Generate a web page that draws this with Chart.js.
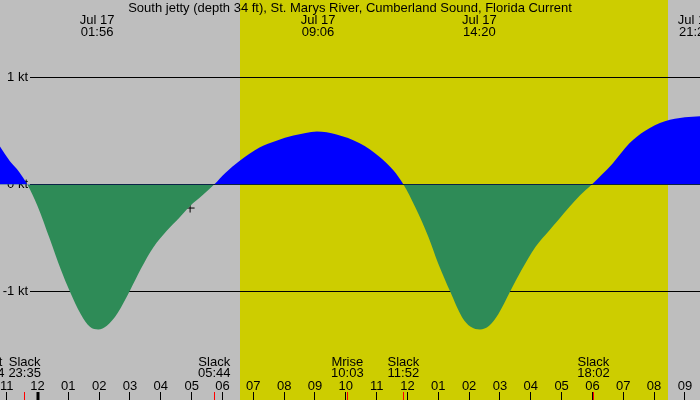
<!DOCTYPE html>
<html>
<head>
<meta charset="utf-8">
<script src="https://cdn.jsdelivr.net/npm/chart.js@4.4.1/dist/chart.umd.min.js"></script>
<style>
  html, body { margin: 0; padding: 0; background: #bebebe; }
  canvas { display: block; }
</style>
</head>
<body>
<canvas id="tideChart" width="700" height="400"></canvas>
<script>
// Current at South jetty, hours since Jul 17 00:00 -> knots
const hours = [-1.25, -0.9, -0.6, -0.33, 0, 0.4, 0.75, 1.05, 1.4, 1.7, 1.97, 2.25, 2.6, 3.0, 3.35, 3.75,
  4.2, 4.6, 4.95, 5.35, 5.73, 6.1, 6.55, 7.2, 7.75, 8.3, 8.7, 9.06, 9.7, 10.45, 11.1, 11.55, 11.87,
  12.25, 12.68, 13.0, 13.4, 13.77, 14.05, 14.35, 14.65, 14.95, 15.33, 15.7, 16.15, 16.6, 16.9, 17.25,
  17.6, 17.98, 18.3, 18.65, 19.2, 19.7, 20.35, 21.0, 21.5];
const knots = [0.37, 0.22, 0.12, 0, -0.2, -0.51, -0.79, -1.0, -1.21, -1.33, -1.355, -1.32, -1.2, -0.99, -0.79, -0.59,
  -0.43, -0.31, -0.2, -0.1, 0, 0.11, 0.22, 0.345, 0.41, 0.458, 0.482, 0.495, 0.467, 0.385, 0.257, 0.13, 0,
  -0.21, -0.49, -0.74, -1.01, -1.24, -1.33, -1.355, -1.32, -1.21, -1.0, -0.8, -0.585, -0.43, -0.33, -0.21,
  -0.1, 0, 0.09, 0.195, 0.385, 0.5, 0.59, 0.628, 0.638];

// "now" marker
const nowHour = [4.95];
const nowKnots = [-0.22];

// reference lines
const levelValues = [1, 0, -1];
const levelLabels = ['1 kt', '0 kt', '-1 kt'];

// hour ticks along the bottom
const tickHours = [-1, 0, 1, 2, 3, 4, 5, 6, 7, 8, 9, 10, 11, 12, 13, 14, 15, 16, 17, 18, 19, 20, 21];
const tickLabels = ['11', '12', '01', '02', '03', '04', '05', '06', '07', '08', '09', '10',
  '11', '12', '01', '02', '03', '04', '05', '06', '07', '08', '09'];

// daylight
const sunrise = 6.575;
const sunset = 20.455;

// max flood / max ebb times (top labels)
const peakHours = [1.933, 9.1, 14.333, 21.333];
const peakDates = ['Jul 17', 'Jul 17', 'Jul 17', 'Jul 17'];
const peakTimes = ['01:56', '09:06', '14:20', '21:20'];

// slack / moon events (bottom labels)
const eventHours = [-1.6, -0.417, 5.733, 10.05, 11.867, 18.033];
const eventNames = ['Mset', 'Slack', 'Slack', 'Mrise', 'Slack', 'Slack'];
const eventTimes = ['22:24', '23:35', '05:44', '10:03', '11:52', '18:02'];

const title = 'South jetty (depth 34 ft), St. Marys River, Cumberland Sound, Florida Current';

const FONT = '13px "Liberation Sans", Arial, sans-serif';

const tidePlugin = {
    id: 'tideDecor',
    beforeDraw(chart) {
        const { ctx, width, height } = chart;
        const x = chart.scales.x;
        ctx.save();
        ctx.fillStyle = '#bebebe';
        ctx.fillRect(0, 0, width, height);
        const x0 = Math.round(x.getPixelForValue(sunrise));
        const x1 = Math.round(x.getPixelForValue(sunset));
        ctx.fillStyle = '#cdcd00';
        ctx.fillRect(x0, 0, x1 - x0, height);
        ctx.restore();
    },
    beforeDatasetsDraw(chart) {
        const { ctx, width } = chart;
        const y = chart.scales.y;
        ctx.save();
        ctx.fillStyle = '#000';
        ctx.font = FONT;
        ctx.textAlign = 'right';
        ctx.textBaseline = 'middle';
        levelValues.forEach((v, i) => {
            const py = Math.floor(y.getPixelForValue(v));
            ctx.fillRect(30, py, width - 30, 1);
            ctx.fillText(levelLabels[i], 28, py + 0.5);
        });
        ctx.restore();
    },
    afterDraw(chart) {
        const { ctx, width } = chart;
        const x = chart.scales.x;
        ctx.save();
        ctx.fillStyle = '#000';
        ctx.font = FONT;
        ctx.textAlign = 'center';
        ctx.textBaseline = 'alphabetic';

        ctx.fillText(title, width / 2, 12);

        peakHours.forEach((h, i) => {
            const px = x.getPixelForValue(h);
            ctx.fillText(peakDates[i], px, 24);
            ctx.fillText(peakTimes[i], px, 36);
        });

        // hour ticks
        tickHours.forEach((h, i) => {
            const px = x.getPixelForValue(h);
            ctx.fillStyle = '#000';
            ctx.fillText(tickLabels[i], px, 390);
            if (h === 0) {
                ctx.fillRect(Math.round(px) - 1.5, 392, 3, 8);
            } else {
                ctx.fillRect(Math.round(px - 0.5), 392, 1, 8);
            }
        });

        // events
        eventHours.forEach((h, i) => {
            const px = x.getPixelForValue(h);
            ctx.fillStyle = '#000';
            ctx.fillText(eventNames[i], px, 366);
            ctx.fillText(eventTimes[i], px, 377);
            ctx.fillStyle = '#ff0000';
            ctx.fillRect(Math.round(px - 0.5), 392, 1, 8);
        });
        ctx.restore();
    }
};

new Chart(document.getElementById('tideChart').getContext('2d'), {
    type: 'line',
    data: {
        datasets: [
            {
                label: 'Current',
                data: hours.map((h, i) => ({ x: h, y: knots[i] })),
                borderWidth: 0,
                borderColor: 'rgba(0,0,0,0)',
                pointRadius: 0,
                cubicInterpolationMode: 'monotone',
                fill: { target: 'origin', above: '#0000ff', below: '#2e8b57' },
            },
            {
                type: 'scatter',
                label: 'Now',
                data: nowHour.map((h, i) => ({ x: h, y: nowKnots[i] })),
                pointStyle: 'cross',
                pointRadius: 4.5,
                borderColor: '#000',
                borderWidth: 1,
            }
        ]
    },
    options: {
        responsive: false,
        devicePixelRatio: 1,
        animation: false,
        events: [],
        layout: { padding: 0, autoPadding: false },
        plugins: { legend: { display: false }, tooltip: { enabled: false } },
        scales: {
            x: { type: 'linear', min: -37.5 / 30.83, max: 662.5 / 30.83, display: false },
            y: { min: (184.5 - 400) / 107, max: 184.5 / 107, display: false }
        }
    },
    plugins: [tidePlugin]
});
</script>
</body>
</html>
